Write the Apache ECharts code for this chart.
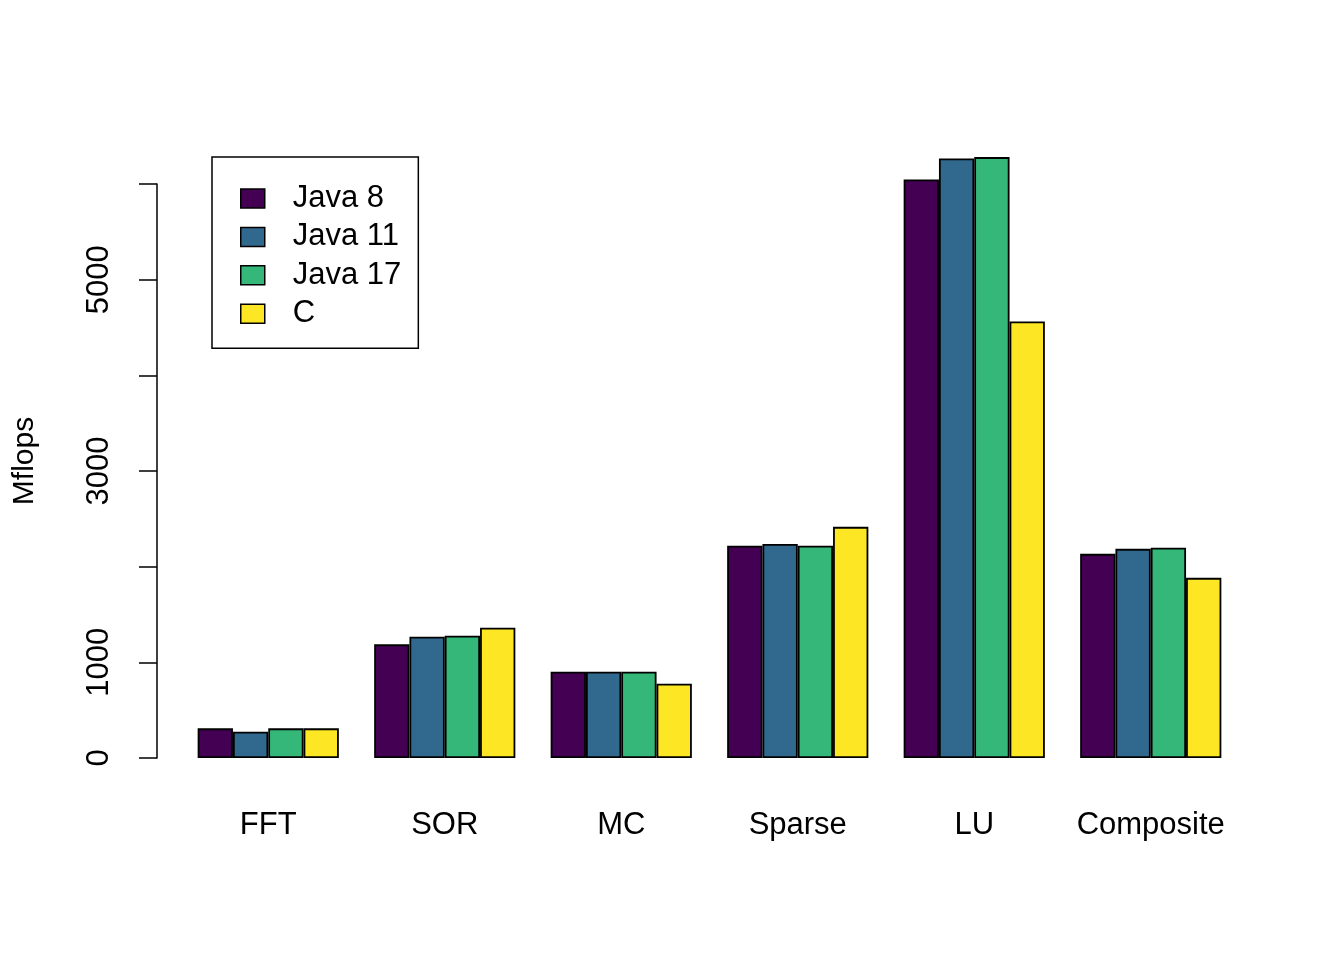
<!DOCTYPE html>
<html>
<head>
<meta charset="utf-8">
<script src="https://cdn.jsdelivr.net/npm/echarts@6/dist/echarts.min.js"></script>
<style>
  html, body { margin: 0; padding: 0; background: #fff; }
  #chart { width: 1344px; height: 960px; }
</style>
</head>
<body>
<div id="chart"></div>
<script>
var categories = ['FFT', 'SOR', 'MC', 'Sparse', 'LU', 'Composite'];
var seriesNames = ['Java 8', 'Java 11', 'Java 17', 'C'];
var java8 = [310, 1188, 901, 2218, 6048, 2134];
var java11 = [275, 1267, 901, 2238, 6267, 2186];
var java17 = [310, 1278, 901, 2218, 6281, 2197];
var cLang = [310, 1361, 776, 2416, 4564, 1883];
var yTicksShown = [0, 1000, 3000, 5000];
var colors = ['#440154', '#31688E', '#35B779', '#FDE725'];

var font = '"Liberation Sans", Arial, sans-serif';
var values = [java8, java11, java17, cLang];

function makeSeries() {
    var out = [];
    for (var i = 0; i < seriesNames.length; i++) {
        out.push({
            name: seriesNames[i],
            type: 'bar',
            data: values[i],
            clip: false,
            barGap: '0%',
            barCategoryGap: '20%',
            itemStyle: { color: colors[i], borderColor: '#000', borderWidth: 1.8 }
        });
    }
    return out;
}

var chart = echarts.init(document.getElementById('chart'));
chart.setOption({
    animation: false,
    backgroundColor: '#fff',
    textStyle: { fontFamily: font },
    grid: { left: 180, width: 1059, top: 184, height: 574 },
    legend: {
        orient: 'vertical',
        left: 212,
        top: 157,
        padding: [26, 17, 19, 28],
        icon: 'rect',
        itemWidth: 24,
        itemHeight: 19,
        itemGap: 7.4,
        borderColor: '#000',
        borderWidth: 1.5,
        data: seriesNames,
        itemStyle: { borderColor: '#000', borderWidth: 1.5 },
        textStyle: { fontSize: 31, lineHeight: 30, color: '#000', fontFamily: font, padding: [0, 0, 0, 23] }
    },
    xAxis: {
        type: 'category',
        data: categories,
        axisLine: { show: false },
        axisTick: { show: false },
        axisLabel: { interval: 0, fontSize: 31, color: '#000', margin: 52, fontFamily: font }
    },
    yAxis: {
        type: 'value',
        min: 0,
        max: 6000,
        interval: 1000,
        offset: 23,
        name: 'Mflops',
        nameLocation: 'middle',
        nameGap: 117,
        nameTextStyle: { fontSize: 30, color: '#000', fontFamily: font, padding: [0, 0, 0, 20] },
        splitLine: { show: false },
        axisLine: { show: true, lineStyle: { color: '#000', width: 1.5 } },
        axisTick: { show: true, length: 18, lineStyle: { color: '#000', width: 1.5 } },
        axisLabel: {
            rotate: 90,
            fontSize: 31,
            color: '#000',
            margin: 42,
            fontFamily: font,
            formatter: function (v) {
                return yTicksShown.indexOf(v) >= 0 ? String(v) : '';
            }
        }
    },
    series: makeSeries()
});
</script>
</body>
</html>
